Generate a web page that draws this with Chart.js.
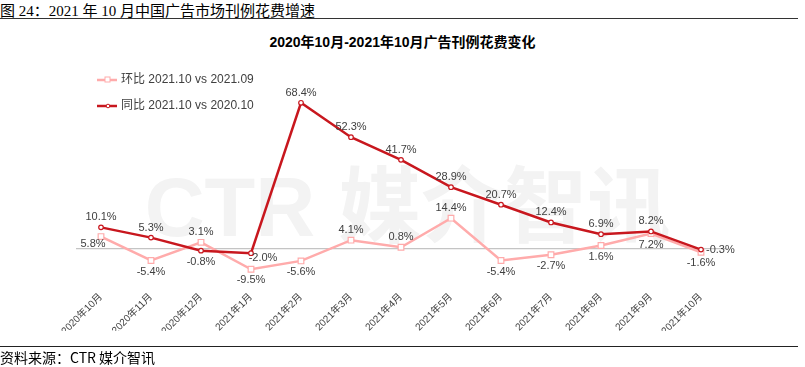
<!DOCTYPE html>
<html>
<head>
<meta charset="utf-8">
<script src="https://cdn.jsdelivr.net/npm/chart.js@4.4.0/dist/chart.umd.min.js"></script>
<style>
    body { margin: 0; background: #fff; width: 805px; height: 367px; overflow: hidden; position: relative; }
    #head { position: absolute; left: 0; top: -1px; font: 15px "Liberation Serif", "Noto Sans CJK SC", serif; color: #000; white-space: nowrap; }
    #topLine { position: absolute; left: 0; top: 18px; width: 798px; height: 0; border-top: 1.5px solid #333; }
    #bottomLine { position: absolute; left: 0; top: 346px; width: 798px; height: 0; border-top: 1.5px solid #222; }
    #source { position: absolute; left: 0; top: 347px; font: 14px "Noto Sans CJK SC", sans-serif; color: #000; white-space: nowrap; }
    #title { position: absolute; left: 0; width: 805px; top: 31px; text-align: center; font: bold 14px "Liberation Sans", "Noto Sans CJK SC", sans-serif; color: #000; }
    #mark { position: absolute; left: 0; width: 815px; top: 140px; text-align: center; font: bold 83px "Liberation Sans", "Noto Sans CJK SC", sans-serif; color: #f3f3f3; white-space: nowrap; }
    #wrap { position: absolute; left: 0; top: 0; width: 805px; height: 367px; }
    .leg { position: absolute; left: 97px; font: 12px "Liberation Sans", "Noto Sans CJK SC", sans-serif; color: #404040; white-space: nowrap; }
    .leg canvas { vertical-align: middle; margin-right: 4px; }
</style>
</head>
<body>
<div id="head">图 24：2021 年 10 月中国广告市场刊例花费增速</div>
<div id="topLine"></div>
<div id="mark">CTR 媒介智讯</div>
<div id="title">2020年10月-2021年10月广告刊例花费变化</div>
<div id="wrap"><canvas id="chartCanvas"></canvas></div>
<div class="leg" style="top:69px"><canvas id="leg1" width="20" height="10"></canvas>环比 2021.10 vs 2021.09</div>
<div class="leg" style="top:95px"><canvas id="leg2" width="20" height="10"></canvas>同比 2021.10 vs 2020.10</div>
<div id="bottomLine"></div>
<div id="source">资料来源：CTR 媒介智讯</div>
<script>
const months = ["2020年10月", "2020年11月", "2020年12月", "2021年1月", "2021年2月", "2021年3月", "2021年4月",
    "2021年5月", "2021年6月", "2021年7月", "2021年8月", "2021年9月", "2021年10月"];
const momValues = [5.8, -5.4, 3.1, -9.5, -5.6, 4.1, 0.8, 14.4, -5.4, -2.7, 1.6, 7.2, -1.6];
const yoyValues = [10.1, 5.3, -0.8, -2.0, 68.4, 52.3, 41.7, 28.9, 20.7, 12.4, 6.9, 8.2, -0.3];
const momLabelPos = ["bottomLeft", "bottom", "top", "bottom", "bottom", "top", "top", "top", "bottom", "bottom", "bottom", "bottom", "bottom"];
const yoyLabelPos = ["top", "top", "bottom", "bottomRight", "top", "top", "top", "top", "top", "top", "top", "top", "right"];

const pink = "#ffabab";
const red = "#c8171e";

// legend samples
function drawSample(id, color, square) {
    const c = document.getElementById(id).getContext("2d");
    c.strokeStyle = color;
    c.lineWidth = 2.5;
    c.beginPath(); c.moveTo(0, 5); c.lineTo(20, 5); c.stroke();
    c.fillStyle = "#fff";
    c.lineWidth = 1;
    if (square) {
        c.fillRect(8, 2, 5, 5); c.strokeRect(8, 2, 5, 5);
    } else {
        c.beginPath(); c.arc(11, 5, 1.8, 0, Math.PI * 2); c.fill(); c.stroke();
    }
}
drawSample("leg1", pink, true);
drawSample("leg2", red, false);

const pointLabels = {
    id: "pointLabels",
    afterDatasetsDraw(chart) {
        const ctx = chart.ctx;
        ctx.save();
        ctx.font = '11px "Liberation Sans", Arial, sans-serif';
        ctx.fillStyle = "#404040";
        ctx.textBaseline = "middle";
        chart.data.datasets.forEach((ds, i) => {
            const meta = chart.getDatasetMeta(i);
            meta.data.forEach((pt, j) => {
                const pos = ds.labelPos[j];
                let x = pt.x, y = pt.y, align = "center";
                if (pos === "top") y -= 10;
                else if (pos === "bottom") y += 11;
                else if (pos === "right") { x += 5; align = "left"; }
                else if (pos === "bottomLeft") { x -= 8; y += 7; }
                else if (pos === "bottomRight") { x += 12; y += 5; }
                ctx.textAlign = align;
                ctx.fillText(ds.data[j].toFixed(1) + "%", x, y);
            });
        });
        ctx.restore();
    }
};

new Chart(document.getElementById("chartCanvas").getContext("2d"), {
    type: "line",
    data: {
        labels: months,
        datasets: [
            {
                label: "同比 2021.10 vs 2020.10",
                data: yoyValues,
                labelPos: yoyLabelPos,
                borderColor: red,
                backgroundColor: "#fff",
                borderWidth: 2.5,
                pointStyle: "circle",
                pointRadius: 2.3,
                pointBorderWidth: 1.2,
                pointBorderColor: red,
                pointBackgroundColor: "#fff",
                tension: 0,
                order: 0
            },
            {
                label: "环比 2021.10 vs 2021.09",
                data: momValues,
                labelPos: momLabelPos,
                borderColor: pink,
                backgroundColor: "#fff",
                borderWidth: 2.5,
                pointStyle: "rect",
                pointRadius: 4,
                pointBorderWidth: 1.2,
                pointBorderColor: pink,
                pointBackgroundColor: "#fff",
                tension: 0,
                order: 1
            }
        ]
    },
    options: {
        responsive: true,
        maintainAspectRatio: false,
        animation: false,
        layout: { padding: { left: 76, right: 79, top: 78, bottom: 36 } },
        plugins: { legend: { display: false }, tooltip: { enabled: false } },
        scales: {
            x: {
                offset: true,
                grid: { display: false },
                border: { display: false },
                ticks: {
                    autoSkip: false,
                    maxRotation: 45,
                    minRotation: 45,
                    padding: 2,
                    color: "#404040",
                    font: { size: 10, family: '"Liberation Sans", "Noto Sans CJK SC", sans-serif' }
                },
                afterFit: scale => { scale.height = 50; }
            },
            y: {
                min: -15,
                max: 80,
                ticks: { display: false, stepSize: 5 },
                border: { display: false },
                grid: {
                    drawTicks: false,
                    color: c => c.tick.value === 0 ? "#c4c4c4" : "rgba(0,0,0,0)",
                    lineWidth: 1.2
                },
                afterFit: scale => { scale.width = 0; }
            }
        }
    },
    plugins: [pointLabels]
});
</script>
</body>
</html>
